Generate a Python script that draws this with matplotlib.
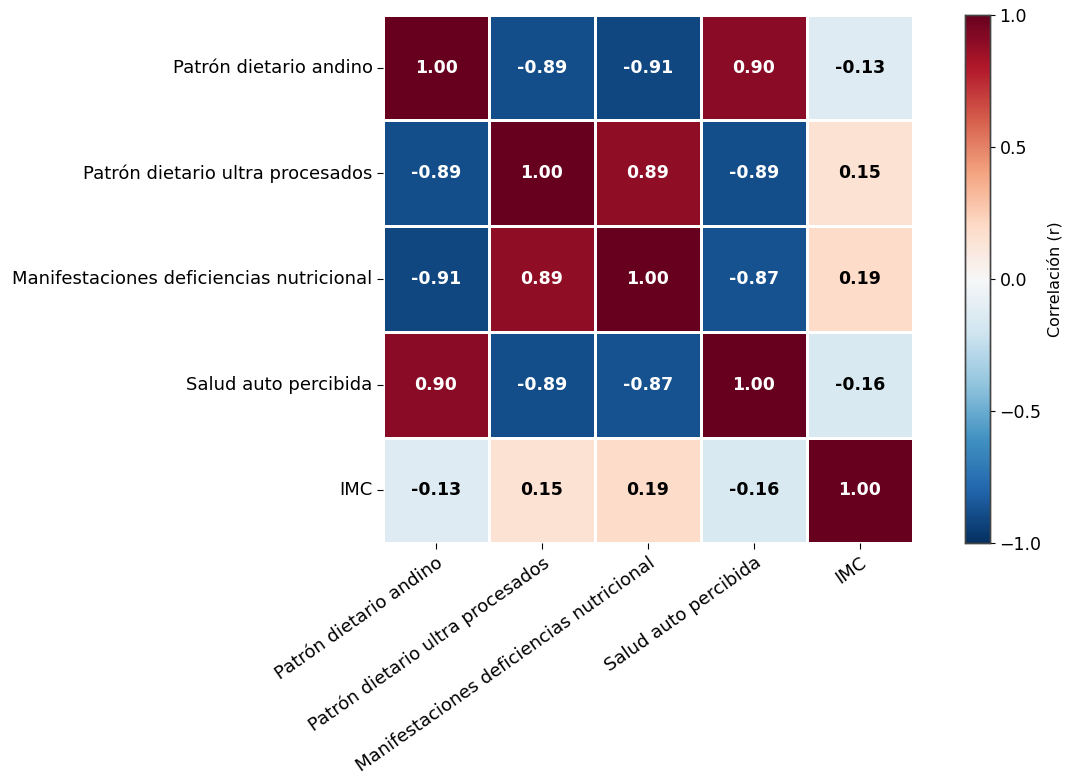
import numpy as np
import matplotlib
matplotlib.use("Agg")
import matplotlib.pyplot as plt
import seaborn as sns

# variables and correlation matrix
labels = ["Patrón dietario andino",
          "Patrón dietario ultra procesados",
          "Manifestaciones deficiencias nutricional",
          "Salud auto percibida",
          "IMC"]
corr = np.array([
    [1.00, -0.89, -0.91, 0.90, -0.13],
    [-0.89, 1.00, 0.89, -0.89, 0.15],
    [-0.91, 0.89, 1.00, -0.87, 0.19],
    [0.90, -0.89, -0.87, 1.00, -0.16],
    [-0.13, 0.15, 0.19, -0.16, 1.00],
])

fig = plt.figure(figsize=(10.7, 7.75), dpi=100)
ax = fig.add_axes([0.358, 0.299, 0.495, 0.682])
cax = fig.add_axes([0.902, 0.299, 0.023, 0.682])

sns.heatmap(corr, ax=ax, cbar_ax=cax, cmap="RdBu_r", vmin=-1, vmax=1,
            annot=True, fmt=".2f", linewidths=2, linecolor="white",
            annot_kws={"fontsize": 12.5, "fontweight": "bold"},
            xticklabels=labels, yticklabels=labels)

# plain black text on the light cells
for t in ax.texts:
    if abs(float(t.get_text())) < 0.5:
        t.set_color("black")

ax.tick_params(axis="both", labelsize=13, length=4)
plt.setp(ax.get_xticklabels(), rotation=35, ha="right", rotation_mode="anchor")
plt.setp(ax.get_yticklabels(), rotation=0)

cax.tick_params(labelsize=12.5)
cax.set_ylabel("Correlación (r)", fontsize=11.5)
cax.set_yticks([-1.0, -0.5, 0.0, 0.5, 1.0])
for spine in cax.spines.values():
    spine.set_visible(True)
    spine.set_edgecolor("#444444")
    spine.set_linewidth(1.0)

fig.savefig("out.png", dpi=100)
